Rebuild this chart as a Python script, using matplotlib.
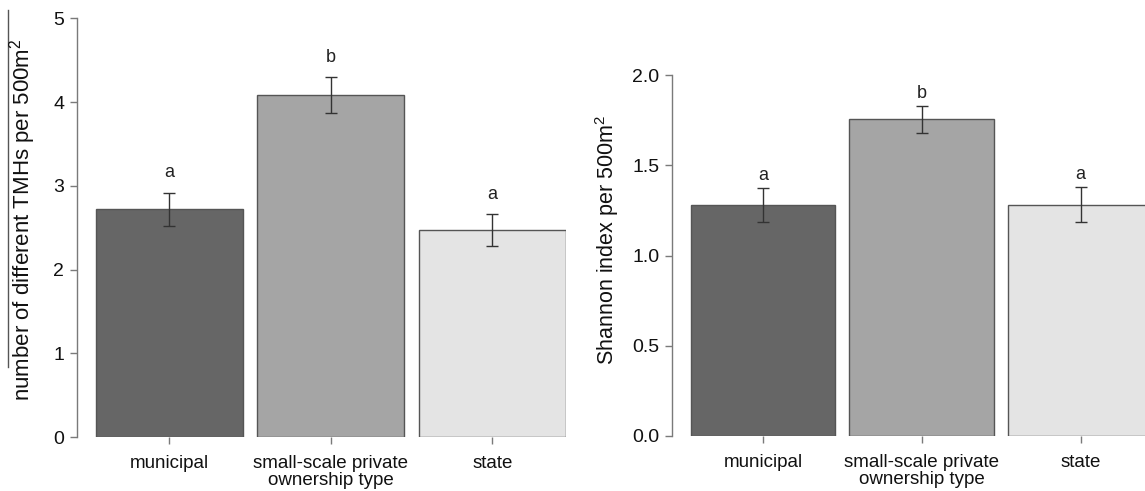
import matplotlib
matplotlib.use("Agg")
import matplotlib.pyplot as plt
from matplotlib.lines import Line2D

plt.rcParams["font.family"] = ["Liberation Sans", "DejaVu Sans"]
plt.rcParams["mathtext.fontset"] = "custom"
plt.rcParams["mathtext.rm"] = "Liberation Sans"
plt.rcParams["mathtext.it"] = "Liberation Sans:italic"

categories = ["municipal", "small-scale private", "state"]
bar_colors = ["#666666", "#a5a5a5", "#e4e4e4"]

tmh_mean = [2.72, 4.08, 2.47]
tmh_se = [0.195, 0.215, 0.19]
tmh_letters = ["a", "b", "a"]

shannon_mean = [1.28, 1.755, 1.28]
shannon_se = [0.092, 0.076, 0.097]
shannon_letters = ["a", "b", "a"]

W, H = 1145, 491
fig = plt.figure(figsize=(W / 100, H / 100), dpi=100)

spine_col = "#7a7a7a"
edge_col = "#555555"
err_col = "#333333"
txt_col = "#111111"
XLIM = (-0.572, 2.456)


def panel(rect, means, ses, letters, ymax, yticks, yticklabels, letter_off):
    ax = fig.add_axes(rect)
    x = list(range(len(categories)))
    ax.bar(x, means, width=0.91, color=bar_colors, edgecolor=edge_col,
           linewidth=1.0, zorder=2)
    ax.errorbar(x, means, yerr=ses, fmt="none", ecolor=err_col,
                elinewidth=1.0, capsize=4, capthick=1.0, zorder=3)
    for xi, m, s, lab in zip(x, means, ses, letters):
        ax.annotate(lab, (xi, m + s), xytext=(0, letter_off),
                    textcoords="offset points", ha="center", va="center",
                    fontsize=13, color="#222222")
    ax.set_ylim(0, ymax)
    ax.set_xlim(*XLIM)
    for side in ("top", "right", "bottom"):
        ax.spines[side].set_visible(False)
    ax.spines["left"].set_color(spine_col)
    ax.spines["left"].set_linewidth(1.0)
    ax.spines["left"].set_bounds(0, ymax)
    ax.set_yticks(yticks)
    ax.set_yticklabels(yticklabels)
    ax.set_xticks(x)
    ax.set_xticklabels(categories)
    ax.tick_params(axis="y", length=5, width=1.0, color=spine_col,
                   labelsize=14, pad=4, labelcolor=txt_col)
    ax.tick_params(axis="x", length=5, width=1.0, color=spine_col,
                   labelsize=13.5, pad=8, labelcolor=txt_col)
    ax.set_xlabel("ownership type", fontsize=13.5, labelpad=0, color=txt_col)
    # centre the axis title under the middle category
    ax.xaxis.label.set_x((1 - XLIM[0]) / (XLIM[1] - XLIM[0]))
    return ax


# left panel: number of TMH types
panel([76.7 / W, 54 / H, 489.5 / W, 418.7 / H], tmh_mean, tmh_se, tmh_letters,
      5, [0, 1, 2, 3, 4, 5], ["0", "1", "2", "3", "4", "5"], 14.5)
fig.text(23 / W, 1 - 220 / H, r"number of different TMHs per 500m$^2$",
         rotation=90, ha="center", va="center", fontsize=16, color=txt_col)
fig.add_artist(Line2D([8 / W, 8 / W], [1 - 10 / H, 1 - 367 / H],
                      color="#555555", linewidth=1.0))

# right panel: Shannon index
panel([672 / W, 55 / H, 481 / W, 361 / H], shannon_mean, shannon_se,
      shannon_letters, 2, [0, 0.5, 1.0, 1.5, 2.0],
      ["0.0", "0.5", "1.0", "1.5", "2.0"], 9)
fig.text(607 / W, 1 - 240 / H, r"Shannon index per 500m$^2$",
         rotation=90, ha="center", va="center", fontsize=15.5, color=txt_col)

fig.savefig("out.png", dpi=100)
